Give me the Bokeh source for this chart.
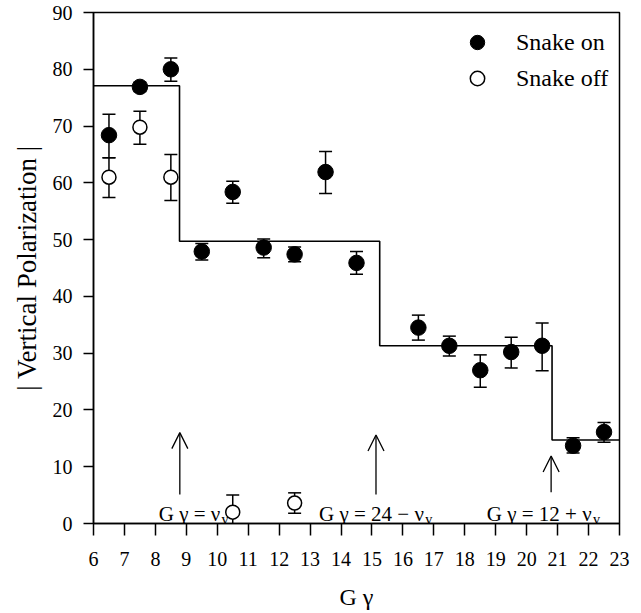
from bokeh.plotting import figure
from bokeh.models import (ColumnDataSource, Whisker, TeeHead, Arrow, OpenHead,
                          FixedTicker, Legend, LegendItem)
from bokeh.core.properties import value
from bokeh.embed import file_html
from bokeh.resources import INLINE

FONT = "Liberation Serif"

# Snake on
on_x = [6.5, 7.5, 8.5, 9.5, 10.5, 11.5, 12.5, 13.5, 14.5, 16.5, 17.5, 18.5, 19.5, 20.5, 21.5, 22.5]
on_y = [68.4, 76.9, 80.0, 47.9, 58.4, 48.6, 47.4, 61.9, 45.9, 34.5, 31.3, 27.0, 30.2, 31.3, 13.7, 16.1]
on_up = [3.7, 0.8, 2.0, 1.4, 1.9, 1.5, 1.3, 3.6, 2.0, 2.2, 1.7, 2.7, 2.6, 4.0, 1.4, 1.7]
on_dn = [4.0, 0.8, 2.1, 1.5, 2.0, 1.8, 1.3, 3.8, 2.0, 2.2, 1.8, 3.0, 2.8, 4.4, 1.3, 1.8]

# Snake off
off_x = [6.5, 7.5, 8.5, 10.5, 12.5]
off_y = [61.0, 69.8, 61.0, 2.0, 3.6]
off_up = [3.4, 2.8, 4.0, 3.0, 1.8]
off_dn = [3.6, 3.0, 4.1, 3.0, 1.8]

# Step (expected polarization)
step_edges = [6, 8.78, 15.25, 20.82, 23]
step_levels = [77.1, 49.7, 31.3, 14.7]

# Resonance arrows
arrow_x = [8.79, 15.13, 20.79]
arrow_y0 = [5.1, 5.1, 5.5]
arrow_y1 = [16.0, 15.6, 11.9]

# Resonance labels
label_text = ["G γ = ν", "G γ = 24 − ν", "G γ = 12 + ν"]
label_sub = ["y", "y", "y"]
label_x = [10.1, 16.68, 22.1]
label_y = [1.7, 1.7, 1.7]

x_ticks = list(range(6, 24))
y_ticks = list(range(0, 91, 10))

p = figure(width=635, height=612, x_range=(6, 23), y_range=(0, 90),
           output_backend="svg", toolbar_location=None,
           min_border_left=93, min_border_right=16, min_border_top=12, min_border_bottom=88,
           background_fill_color="white", border_fill_color="white")
p.xgrid.grid_line_color = None
p.ygrid.grid_line_color = None
p.outline_line_color = "black"
p.outline_line_width = 1.5

for ax, ticks, tout in ((p.xaxis[0], x_ticks, 12), (p.yaxis[0], y_ticks, 10)):
    ax.ticker = FixedTicker(ticks=ticks)
    ax.minor_tick_line_color = None
    ax.major_tick_in = 0
    ax.major_tick_out = tout
    ax.major_tick_line_width = 1.5
    ax.major_tick_line_color = "black"
    ax.axis_line_width = 1.5
    ax.axis_line_color = "black"
    ax.major_label_text_font = FONT
    ax.major_label_text_font_size = "20px"
    ax.major_label_text_color = "black"
    ax.axis_label_text_font = FONT
    ax.axis_label_text_font_style = "normal"
    ax.axis_label_text_color = "black"

p.xaxis.axis_label = "G γ"
p.xaxis.axis_label_text_font_size = "24px"
p.xaxis.major_label_standoff = 16
p.xaxis.axis_label_standoff = 15
p.yaxis.axis_label = "| Vertical Polarization |"
p.yaxis.axis_label_text_font_size = "27px"
p.yaxis.major_label_standoff = 11
p.yaxis.axis_label_standoff = 8

# step line
sx = step_edges
sy = step_levels + [step_levels[-1]]
p.step(sx, sy, mode="after", line_color="black", line_width=1.6)

# error bars
on_src = ColumnDataSource(dict(x=on_x, y=on_y,
                               upper=[a + b for a, b in zip(on_y, on_up)],
                               lower=[a - b for a, b in zip(on_y, on_dn)]))
off_src = ColumnDataSource(dict(x=off_x, y=off_y,
                                upper=[a + b for a, b in zip(off_y, off_up)],
                                lower=[a - b for a, b in zip(off_y, off_dn)]))
for src in (on_src, off_src):
    w = Whisker(source=src, base="x", upper="upper", lower="lower",
                line_color="black", line_width=1.5,
                upper_head=TeeHead(size=13, line_width=1.5, line_color="black"),
                lower_head=TeeHead(size=13, line_width=1.5, line_color="black"),
                level="underlay")
    p.add_layout(w)

r_on = p.scatter("x", "y", source=on_src, size=15.5, marker="circle",
                 fill_color="black", line_color="black")
r_off = p.scatter("x", "y", source=off_src, size=14, marker="circle",
                  fill_color="white", line_color="black", line_width=1.5)

# arrows
for ax_, y0, y1 in zip(arrow_x, arrow_y0, arrow_y1):
    p.add_layout(Arrow(end=OpenHead(size=16, line_width=1.3, line_color="black"),
                       x_start=ax_, y_start=y0, x_end=ax_, y_end=y1,
                       line_width=1.3, line_color="black"))

# resonance labels
lab_src = ColumnDataSource(dict(x=label_x, y=label_y, t=label_text, s=label_sub))
p.text("x", "y", text="t", source=lab_src, text_align="right", text_baseline="alphabetic",
       text_font=value(FONT), text_font_size="21px", text_color="black")
p.text("x", "y", text="s", source=lab_src, text_align="left", text_baseline="alphabetic",
       x_offset=1, y_offset=5,
       text_font=value(FONT), text_font_size="15px", text_color="black")

legend = Legend(items=[LegendItem(label="Snake on", renderers=[r_on]),
                       LegendItem(label="Snake off", renderers=[r_off])],
                location=(366, 427), orientation="vertical",
                glyph_width=36, glyph_height=36, label_height=36,
                label_standoff=21, spacing=0, padding=0, margin=0,
                border_line_alpha=0, background_fill_alpha=0,
                label_text_font=FONT, label_text_font_size="24px",
                label_text_color="black")
p.add_layout(legend, "center")

open("out.html", "w").write(file_html(p, INLINE))
